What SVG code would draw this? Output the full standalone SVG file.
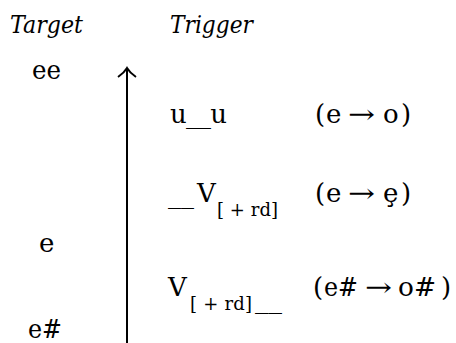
<svg xmlns="http://www.w3.org/2000/svg" width="456" height="343" viewBox="0 0 456 343">
<style>
text{font-family:"DejaVu Serif","Liberation Serif",serif;font-size:26px;fill:#000}
.h{font-style:italic;font-size:25px}
.sub{font-size:18px}
.ax{stroke:#000;stroke-width:2;fill:none}
</style>
<rect width="456" height="343" fill="#fff"/>
<g id="headers">
<text class="h" x="10" y="33" textLength="73" lengthAdjust="spacingAndGlyphs">Target</text>
<text class="h" x="170" y="33" textLength="83" lengthAdjust="spacingAndGlyphs">Trigger</text>
</g>
<g id="targets">
<text x="32" y="79" textLength="29" lengthAdjust="spacingAndGlyphs">ee</text>
<text x="39" y="252">e</text>
<text x="28" y="338" textLength="34" lengthAdjust="spacingAndGlyphs">e#</text>
</g>
<g id="connectors">
<line class="ax" x1="127" y1="69" x2="127" y2="343"/>
<path class="ax" d="M118 77 Q124 73 127 68 Q130 73 136 77"/>
</g>
<g id="row1">
<text x="170" y="123" textLength="57" lengthAdjust="spacing">u__u</text>
<text x="315" y="123">(</text>
<text x="326" y="123">e</text>
<text x="348" y="123" textLength="27" lengthAdjust="spacingAndGlyphs">→</text>
<text x="383" y="123">o</text>
<text x="401" y="123">)</text>
</g>
<g id="row2">
<text x="168" y="203" textLength="26" lengthAdjust="spacingAndGlyphs">__</text>
<text x="197" y="202">V</text>
<text class="sub" x="217" y="216" textLength="61" lengthAdjust="spacing">[ + rd]</text>
<text x="315" y="202">(</text>
<text x="326" y="202">e</text>
<text x="348" y="202" textLength="27" lengthAdjust="spacingAndGlyphs">→</text>
<text x="383" y="202">ȩ</text>
<text x="401" y="202">)</text>
</g>
<g id="row3">
<text x="168" y="296">V</text>
<text class="sub" x="190" y="310" textLength="62" lengthAdjust="spacing">[ + rd]</text>
<text x="255" y="308" textLength="27" lengthAdjust="spacingAndGlyphs">__</text>
<text x="313" y="296">(</text>
<text x="324" y="296" textLength="34" lengthAdjust="spacingAndGlyphs">e#</text>
<text x="365" y="296" textLength="27" lengthAdjust="spacingAndGlyphs">→</text>
<text x="398" y="296" textLength="38" lengthAdjust="spacingAndGlyphs">o#</text>
<text x="441" y="296">)</text>
</g>
</svg>
